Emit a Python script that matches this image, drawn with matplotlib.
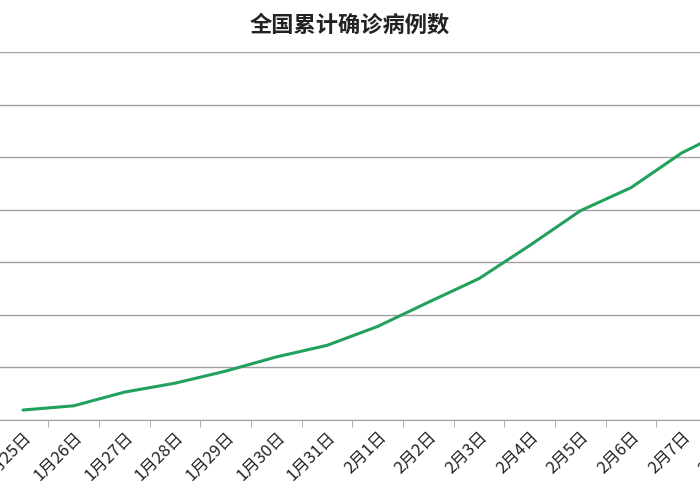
import matplotlib
matplotlib.use("Agg")
import matplotlib.pyplot as plt

plt.rcParams['font.family'] = ['Noto Sans CJK SC', 'DejaVu Sans']

dates = ["1月25日", "1月26日", "1月27日", "1月28日", "1月29日", "1月30日", "1月31日",
         "2月1日", "2月2日", "2月3日", "2月4日", "2月5日", "2月6日", "2月7日", "2月8日"]
cases = [950, 1350, 2650, 3500, 4650, 6000, 7100, 8900, 11200, 13450,
         16600, 19900, 22100, 25400, 27800]

fig = plt.figure(figsize=(7, 5), dpi=100)
# plot area is cropped on both sides in the reference
ax = fig.add_axes([-2.3 / 700, 80 / 500, 760 / 700, 368 / 500])
x = list(range(len(dates)))
ax.plot(x, cases, color='#22a05e', lw=2.2, solid_capstyle='round')

ax.set_xlim(-0.5, len(dates) - 0.5)
ax.set_ylim(0, 35000)
ax.set_yticks(range(0, 35001, 5000))
ax.yaxis.grid(True, color='#a0a0a0', lw=1)
ax.tick_params(axis='y', left=False, labelleft=False)
for s in ['left', 'right', 'top']:
    ax.spines[s].set_visible(False)
ax.spines['bottom'].set_color('#a0a0a0')
ax.set_xticks(x)
ax.set_xticklabels(dates, rotation=45, ha='right', rotation_mode='anchor', fontsize=12, color='#222222')
ax.tick_params(axis='x', which='major', length=0, pad=6)
ax.set_xticks([i - 0.5 for i in range(len(dates) + 1)], minor=True)
ax.tick_params(axis='x', which='minor', length=5, color='#a0a0a0')
ax.set_axisbelow(True)

fig.text(0.5, 0.95, "全国累计确诊病例数", ha='center', va='center', fontsize=16, fontweight='bold', color='#222222')

fig.savefig("out.png")
